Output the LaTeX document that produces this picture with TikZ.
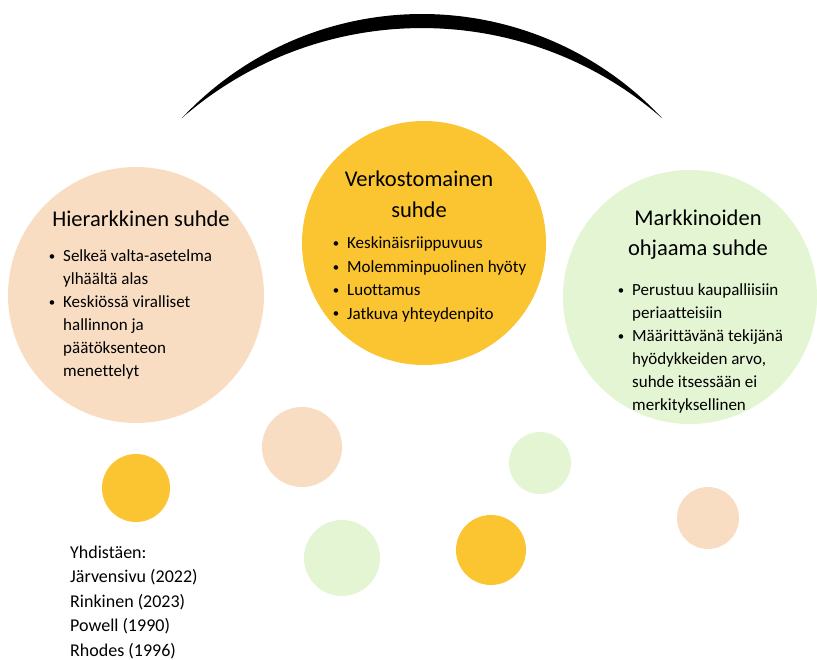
\documentclass[tikz,border=0pt]{standalone}
\usepackage{fontspec}
\setmainfont{Carlito}[Ligatures=NoCommon]
\definecolor{peach}{HTML}{F8DDC3}
\definecolor{gold}{HTML}{FBC531}
\definecolor{mint}{HTML}{E3F5D2}
\newcommand\blt{\llap{\raisebox{0.08em}{\scalebox{0.75}{•}}\hspace{8pt}}}
\tikzset{
  disc/.style={circle, inner sep=0pt, draw=none},
  title/.style={anchor=base, inner sep=0pt, font=\fontsize{22.5}{27}\selectfont},
  list/.style={anchor=base west, inner sep=0pt, font=\fontsize{17}{20}\selectfont},
  refs/.style={anchor=base west, inner sep=0pt, font=\fontsize{18}{21}\selectfont},
}
\begin{document}
\begin{tikzpicture}[x=1pt,y=-1pt]
\useasboundingbox (0,0) rectangle (817,660);
% arc
\fill[black] (662,118) arc[start angle=-43.15, end angle=-136.85, radius=329]
  arc[start angle=-131.1, end angle=-48.9, radius=365] -- cycle;
% big circles
\node[disc, fill=peach, minimum size=256pt] (hier) at (136,295) {};
\node[disc, fill=gold, minimum size=244pt] (verk) at (424,243) {};
\node[disc, fill=mint, minimum size=254pt] (mark) at (690,297) {};
% small circles
\node[disc, fill=peach, minimum size=80pt] (s1) at (302,447) {};
\node[disc, fill=gold, minimum size=68pt] (s2) at (136,488) {};
\node[disc, fill=mint, minimum size=62pt] (s3) at (540,463) {};
\node[disc, fill=mint, minimum size=76pt] (s4) at (342,558) {};
\node[disc, fill=gold, minimum size=70pt] (s5) at (491,550) {};
\node[disc, fill=peach, minimum size=62pt] (s6) at (708,518) {};
% left text
\node[title] (ht) at (141,227) {Hierarkkinen suhde};
\node[list] (hl) at (63,262) {\vtop{\baselineskip=23pt
  \hbox{\blt Selkeä valta-asetelma}
  \hbox{ylhäältä alas}
  \hbox{\blt Keskiössä viralliset}
  \hbox{hallinnon ja}
  \hbox{päätöksenteon}
  \hbox{menettelyt}}};
% middle text
\node[title] (vt1) at (419,187) {Verkostomainen};
\node[title] (vt2) at (419,218) {suhde};
\node[list] (vl) at (347,249) {\vtop{\baselineskip=23.4pt
  \hbox{\blt Keskinäisriippuvuus}
  \hbox{\blt Molemminpuolinen hyöty}
  \hbox{\blt Luottamus}
  \hbox{\blt Jatkuva yhteydenpito}}};
% right text
\node[title] (mt1) at (698,226) {Markkinoiden};
\node[title] (mt2) at (698,256) {ohjaama suhde};
\node[list] (ml) at (632,296) {\vtop{\baselineskip=23pt
  \hbox{\blt Perustuu kaupalliisiin}
  \hbox{periaatteisiin}
  \hbox{\blt Määrittävänä tekijänä}
  \hbox{hyödykkeiden arvo,}
  \hbox{suhde itsessään ei}
  \hbox{merkityksellinen}}};
% references
\node[refs] (rf) at (70,558) {\vtop{\baselineskip=24.5pt
  \hbox{Yhdistäen:}
  \hbox{Järvensivu (2022)}
  \hbox{Rinkinen (2023)}
  \hbox{Powell (1990)}
  \hbox{Rhodes (1996)}}};
\end{tikzpicture}
\end{document}
